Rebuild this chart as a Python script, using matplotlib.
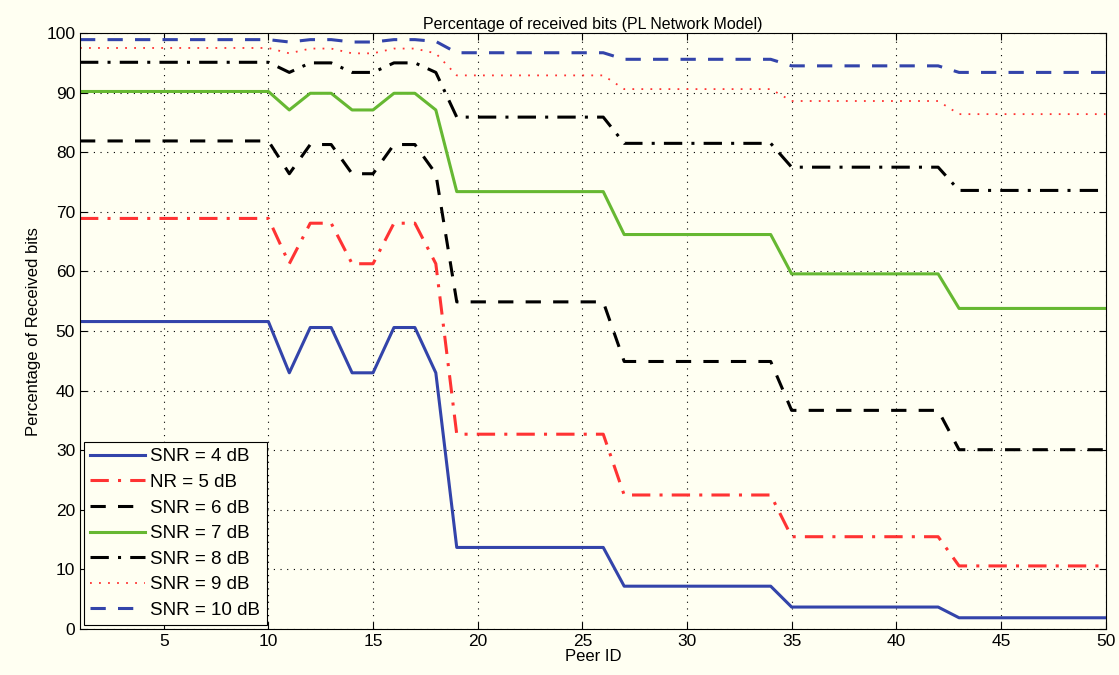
import matplotlib
matplotlib.use('Agg')
import matplotlib.pyplot as plt
import numpy as np

plt.rcParams['font.family'] = ['Liberation Sans', 'DejaVu Sans']

peer_id = np.arange(1, 51)

def expand(head, s19, s27, s35, s43):
    # head: values for peers 1..18
    return list(head) + [s19] * 8 + [s27] * 8 + [s35] * 8 + [s43] * 8

snr4_head = [51.6] * 10 + [43.0, 50.6, 50.6, 43.0, 43.0, 50.6, 50.6, 43.0]
snr5_head = [68.9] * 10 + [61.3, 68.1, 68.1, 61.3, 61.3, 68.1, 68.1, 61.3]
snr6_head = [81.9] * 10 + [76.4, 81.3, 81.3, 76.4, 76.4, 81.3, 81.3, 76.4]
snr7_head = [90.2] * 10 + [87.1, 89.9, 89.9, 87.1, 87.1, 89.9, 89.9, 87.1]
snr8_head = [95.1] * 10 + [93.4, 95.0, 95.0, 93.4, 93.4, 95.0, 95.0, 93.4]
snr9_head = [97.5] * 10 + [96.6, 97.4, 97.4, 96.6, 96.6, 97.4, 97.4, 96.6]
snr10_head = [98.9] * 10 + [98.5, 98.9, 98.9, 98.5, 98.5, 98.9, 98.9, 98.6]

snr4 = expand(snr4_head, 13.7, 7.2, 3.7, 1.9)
snr5 = expand(snr5_head, 32.7, 22.5, 15.5, 10.6)
snr6 = expand(snr6_head, 54.9, 44.9, 36.7, 30.1)
snr7 = expand(snr7_head, 73.4, 66.2, 59.6, 53.8)
snr8 = expand(snr8_head, 85.9, 81.5, 77.5, 73.6)
snr9 = expand(snr9_head, 92.9, 90.6, 88.6, 86.4)
snr10 = expand(snr10_head, 96.7, 95.6, 94.5, 93.4)

labels = ['SNR = 4 dB', 'NR = 5 dB', 'SNR = 6 dB', 'SNR = 7 dB',
          'SNR = 8 dB', 'SNR = 9 dB', 'SNR = 10 dB']

bg = '#FFFFF2'
blue = '#3344AA'
red = '#FF3333'
green = '#66B832'

fig = plt.figure(figsize=(11.19, 6.75), dpi=100)
fig.patch.set_facecolor(bg)
ax = fig.add_axes([0.0715, 0.068, 0.9165, 0.883])
ax.set_facecolor(bg)

ax.plot(peer_id, snr4, color=blue, lw=2.2, ls='-', label=labels[0])
ax.plot(peer_id, snr5, color=red, lw=2.2, ls=(0, (6, 3, 1, 3)), label=labels[1])
ax.plot(peer_id, snr6, color='black', lw=2.2, ls=(0, (5, 4)), label=labels[2])
ax.plot(peer_id, snr7, color=green, lw=2.2, ls='-', label=labels[3])
ax.plot(peer_id, snr8, color='black', lw=2.2, ls=(0, (6, 3, 1, 3)), label=labels[4])
ax.plot(peer_id, snr9, color=red, lw=1.3, ls=(0, (1, 4)), label=labels[5])
ax.plot(peer_id, snr10, color=blue, lw=2.2, ls=(0, (5, 4)), label=labels[6])

ax.set_xlim(1, 50)
ax.set_ylim(0, 100)
ax.set_xticks([5, 10, 15, 20, 25, 30, 35, 40, 45, 50])
ax.set_yticks(np.arange(0, 101, 10))
ax.tick_params(direction='in', top=True, right=True, labelsize=12.5, length=5)
ax.grid(True, color='black', ls=(0, (1, 5)), lw=0.8)
for s in ax.spines.values():
    s.set_linewidth(0.8)

ax.set_xlabel('Peer ID', fontsize=12, labelpad=0)
ax.set_ylabel('Percentage of Received bits', fontsize=12)
ax.set_title('Percentage of received bits (PL Network Model)', fontsize=11.5, pad=3)

leg = ax.legend(loc='lower left', fontsize=13.5, fancybox=False, edgecolor='black',
                facecolor=bg, framealpha=1, handlelength=2.9, borderaxespad=0.2,
                labelspacing=0.45, handletextpad=0.3, borderpad=0.35)
leg.get_frame().set_linewidth(0.8)

fig.savefig('out.png', dpi=100, facecolor=bg)
